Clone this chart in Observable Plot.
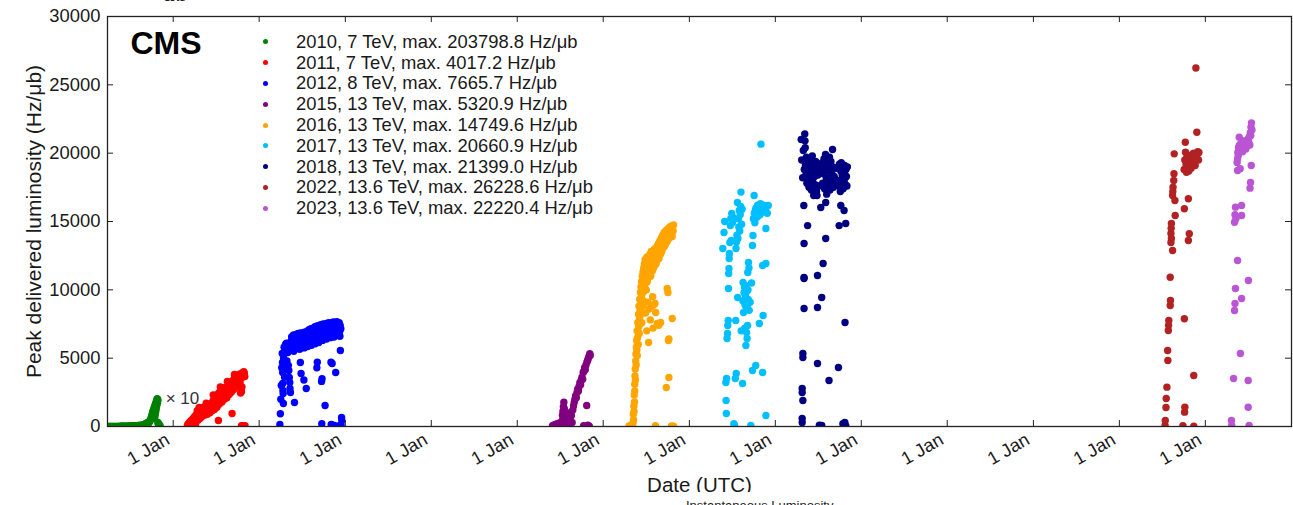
<!DOCTYPE html>
<html><head><meta charset="utf-8">
<script src="https://cdn.jsdelivr.net/npm/d3@7"></script>
<script src="https://cdn.jsdelivr.net/npm/@observablehq/plot@0.6"></script>
<style>
html,body{margin:0;padding:0;background:#fff;}
#wrap{position:relative;width:1293px;height:505px;overflow:hidden;font-family:"Liberation Sans",Arial,Helvetica,sans-serif;color:#1a1a1a;}
#wrap svg{position:absolute;left:0;top:0;}
.lg-dot{position:absolute;width:5px;height:5px;border-radius:50%;}
.lg-txt{position:absolute;font-size:18.4px;line-height:20px;white-space:nowrap;color:#1a1a1a;}
#cut{position:absolute;left:0;top:492px;width:1293px;height:13px;background:#fff;overflow:hidden;}
#cut span{position:absolute;left:686px;top:7px;font-size:13px;line-height:13px;color:#222;white-space:nowrap;}
#topcut{position:absolute;left:163px;top:-17px;font-family:"DejaVu Serif",serif;font-style:italic;font-size:22px;line-height:22px;color:#222;}
</style></head>
<body><div id="wrap"></div>
<script>
// ---------- data ----------
const seriesLabels = [
  "2010, 7 TeV, max. 203798.8 Hz/μb",
  "2011, 7 TeV, max. 4017.2 Hz/μb",
  "2012, 8 TeV, max. 7665.7 Hz/μb",
  "2015, 13 TeV, max. 5320.9 Hz/μb",
  "2016, 13 TeV, max. 14749.6 Hz/μb",
  "2017, 13 TeV, max. 20660.9 Hz/μb",
  "2018, 13 TeV, max. 21399.0 Hz/μb",
  "2022, 13.6 TeV, max. 26228.6 Hz/μb",
  "2023, 13.6 TeV, max. 22220.4 Hz/μb"
];
const seriesYears = [2010, 2011, 2012, 2015, 2016, 2017, 2018, 2022, 2023];
const seriesColors = ["#008000", "#ff0000", "#0000ff", "#800080", "#ffa500", "#00bfff", "#000080", "#b22222", "#ba55d3"];

// [day of year, peak luminosity (2010 shown x10)]
const lumi2010 = [[89,2],[92,3],[96,4],[100,4],[104,5],[108,6],[112,6],[116,7],[120,8],[124,9],[128,10],[132,11],[136,12],[140,14],[144,15],[148,17],[152,18],[156,20],[160,22],[164,24],[168,26],[172,28],[176,30],[180,33],[184,36],[188,40],[192,44],[196,48],[200,52],[204,56],[208,60],[212,66],[216,72],[220,78],[224,85],[228,92],[232,100],[236,110],[240,125],[244,150],[247,190],[250,240],[253,210],[256,280],[259,320],[262,260],[265,380],[268,450],[270,560],[272,680],[274,800],[276,920],[278,1050],[280,1150],[282,1250],[284,1350],[286,1450],[288,1550],[290,1650],[292,1750],[294,1850],[296,1950],[297,2038],[299,1980],[300,1900],[298,1700],[295,1500],[293,1300],[291,1100],[289,900],[287,700],[285,600],[300,300],[302,200],[304,150],[307,100],[309,60]];
const lumi2011 = [[60,50],[63,180],[66,90],[69,300],[72,160],[75,420],[78,250],[81,520],[84,330],[87,650],[90,420],[93,780],[96,520],[99,900],[102,1150],[104,620],[107,1000],[110,760],[113,1250],[116,880],[119,1300],[122,1050],[125,1400],[128,950],[131,1280],[134,1150],[137,1450],[140,1050],[143,1320],[146,1200],[149,1550],[152,1100],[155,1400],[158,1650],[161,1250],[164,1750],[167,1400],[170,1900],[173,1550],[176,2050],[179,1700],[182,2200],[185,1850],[188,2350],[191,1950],[192,440],[194,2450],[197,2100],[200,2600],[203,2250],[206,2500],[209,2150],[212,2700],[215,2400],[218,2850],[221,2550],[224,2300],[227,2750],[230,2450],[233,2950],[236,2650],[239,3100],[242,2800],[245,3250],[248,2950],[250,950],[253,3350],[256,3050],[259,3500],[262,3200],[265,3650],[268,3400],[271,3550],[274,3300],[277,3750],[280,3500],[283,3850],[286,2450],[288,2750],[290,2550],[292,2900],[294,3600],[296,3950],[298,3800],[300,4017],[302,3900],[304,3650],[290,60],[295,40],[300,30],[305,50],[95,150],[105,450],[115,600],[124,750],[135,850],[145,900],[156,1000],[165,1150],[175,1250],[186,1400],[196,1650],[207,1800],[217,2000],[228,2100],[238,2350],[247,2500],[257,2700],[266,2900],[275,3000],[284,3200],[110,1400],[140,1700],[170,2300],[200,2900],[230,3300],[260,3800]];
const lumi2012 = [[88,150],[90,930],[92,2000],[94,3000],[96,4300],[98,5340],[99,4680],[100,3950],[100,3150],[101,2630],[102,2410],[103,1680],[104,5000],[106,5800],[108,3600],[110,4240],[112,6000],[114,5500],[116,6100],[118,4800],[120,5780],[122,5410],[124,4460],[126,4100],[128,3590],[130,3220],[131,2780],[133,2490],[134,6200],[136,5750],[138,6550],[140,6050],[142,6400],[144,5850],[146,6700],[148,6150],[150,1760],[151,6450],[153,5900],[155,6600],[157,6100],[159,6750],[161,5950],[163,6500],[165,6200],[167,6800],[169,6000],[171,6600],[173,6300],[175,4680],[176,6850],[178,3880],[179,6150],[181,6700],[183,6350],[185,5900],[187,6650],[189,6250],[190,3400],[192,6900],[194,6100],[196,6600],[198,5850],[200,2780],[201,6750],[203,6400],[205,7000],[207,6200],[209,6800],[211,6450],[213,7100],[215,6300],[217,6900],[219,6550],[221,7150],[223,6350],[225,6950],[227,6600],[229,7200],[231,6450],[233,7000],[235,6700],[237,7300],[239,6500],[241,7050],[243,6800],[245,4300],[246,7350],[247,4700],[248,6600],[250,7100],[252,6850],[254,7400],[256,6650],[258,7150],[260,6900],[262,7450],[264,6700],[265,3300],[266,200],[267,3500],[268,7200],[270,6950],[272,7500],[274,6750],[276,7250],[278,7000],[280,1540],[281,7500],[283,6800],[285,7300],[287,7050],[289,7550],[291,6850],[293,7350],[295,7100],[297,7600],[299,6900],[301,7400],[303,7150],[305,4700],[306,150],[307,7550],[309,6950],[310,4610],[311,7450],[313,7200],[315,7650],[316,100],[317,7000],[319,7500],[320,50],[321,7250],[323,7600],[325,3950],[326,7100],[328,7550],[330,7666],[332,7300],[334,7050],[336,7500],[338,7200],[340,7600],[342,6950],[344,7400],[345,5560],[347,7150],[350,660],[351,440],[348,100],[340,50],[140,5600],[147,5500],[156,5700],[164,5800],[172,5650],[182,5900],[191,5750],[199,6000],[206,5850],[214,6100],[222,5950],[230,6200],[238,6050],[246,6300],[253,6150],[261,6400],[269,6300],[277,6500],[286,6400],[294,6600],[302,6500],[311,6700],[318,6550],[327,6800],[335,6700],[343,6600]];
const lumi2015 = [[150,50],[154,100],[158,30],[162,150],[166,80],[170,200],[174,120],[178,250],[182,180],[186,300],[190,400],[192,800],[194,1100],[196,1450],[198,1780],[200,1300],[203,900],[206,600],[209,250],[212,150],[215,400],[218,700],[221,950],[224,500],[227,1020],[230,800],[233,300],[236,1200],[239,1500],[242,1760],[245,2000],[248,2250],[251,2100],[254,2500],[257,2750],[260,2600],[263,2950],[266,3200],[269,3050],[272,3400],[275,3600],[278,3450],[280,3950],[282,50],[283,4050],[286,4300],[289,4150],[292,4500],[295,1540],[296,4700],[299,4850],[302,5000],[305,5150],[308,5321],[310,5200],[300,100],[306,30]];
const lumi2016 = [[110,40],[115,60],[120,100],[124,80],[127,300],[128,900],[129,500],[130,1500],[131,1100],[132,2300],[133,1800],[134,3100],[134,2600],[135,3700],[136,4200],[137,3400],[138,4800],[139,5300],[140,4500],[141,5800],[142,6300],[143,5600],[144,7000],[146,6500],[147,7600],[148,6900],[150,8200],[151,7300],[152,8800],[154,7800],[155,9300],[156,8400],[158,9800],[159,8900],[160,10200],[162,9400],[163,10600],[165,9700],[166,11000],[168,10100],[169,11300],[171,10400],[172,11600],[174,10800],[175,11900],[177,11100],[178,12200],[180,11400],[180,8300],[182,12000],[184,11200],[185,7000],[186,12400],[188,11700],[190,12100],[190,9100],[192,11500],[193,6150],[195,12300],[195,8600],[197,11800],[199,12600],[200,7800],[201,12000],[204,12800],[205,8800],[206,12200],[208,12500],[210,9500],[211,11900],[212,7200],[213,12700],[215,8900],[216,12300],[218,13000],[220,9000],[221,12500],[222,50],[223,8340],[224,12900],[226,12400],[229,13200],[230,7540],[232,12700],[235,13400],[236,7400],[238,12900],[241,13600],[244,13100],[244,7610],[247,13800],[250,13300],[253,14000],[256,13500],[259,14200],[262,13700],[265,14300],[268,13900],[268,2850],[271,14400],[272,10100],[274,14100],[275,9800],[277,14500],[277,6290],[279,6400],[279,3590],[280,14250],[283,14600],[286,14300],[289,14650],[290,40],[292,14400],[293,7900],[295,14700],[299,14750],[299,30],[145,5200],[149,6000],[153,6800],[157,7500],[161,8200],[164,7600],[167,8800],[170,9200],[173,9900],[176,10300],[179,10900],[183,10000],[187,10600],[191,10900],[196,11200],[202,11000],[209,11400],[214,11600],[219,11800],[225,11900],[231,12200],[237,12300],[243,12600],[249,12800],[255,13100],[261,13200],[267,13400],[273,13600],[281,13800],[287,14000],[293,13900],[297,14300]];
const lumi2017 = [[142,13020],[147,14200],[150,15000],[155,3220],[156,1900],[157,950],[158,3510],[160,6440],[162,6800],[163,7390],[165,7760],[166,10100],[167,11200],[168,11560],[169,12290],[170,12660],[172,13460],[174,14700],[176,15200],[178,13610],[180,15590],[183,14900],[185,15300],[189,200],[192,70],[195,3510],[197,7760],[198,13020],[199,3880],[200,13500],[202,14000],[204,16390],[205,9440],[206,13750],[208,15200],[210,14600],[212,15800],[214,14300],[216,15500],[218,16100],[219,17150],[220,7000],[222,14800],[224,15900],[226,3150],[227,9200],[228,10540],[230,8340],[232,9800],[234,10200],[235,7200],[236,8900],[238,9600],[240,5930],[240,10300],[242,8600],[243,6880],[244,9900],[245,6440],[246,8800],[247,7390],[248,11270],[249,10000],[250,9300],[251,12000],[253,11600],[254,8500],[258,9100],[261,70],[264,10500],[268,4100],[268,13240],[270,13980],[272,15200],[275,16900],[276,15600],[278,14900],[280,15800],[282,4460],[283,16000],[285,15300],[287,15900],[290,16200],[292,15400],[294,15700],[297,7540],[298,16100],[300,15500],[302,16300],[304,20661],[306,15800],[309,16000],[311,11780],[311,3950],[313,8120],[315,16200],[318,15700],[320,16000],[322,15900],[325,14490],[325,11930],[325,800],[328,16100],[331,15600],[335,16170]];
const lumi2018 = [[110,21000],[112,19500],[114,2780],[114,2490],[114,585],[114,290],[116,18200],[117,5340],[117,5050],[117,1900],[119,20200],[121,16170],[122,13390],[122,10900],[122,10830],[122,8630],[123,18800],[125,21399],[126,20900],[127,20400],[128,19100],[130,18400],[132,19700],[134,17800],[136,18900],[137,14700],[139,19300],[141,18100],[143,17500],[145,19600],[147,18700],[149,18000],[151,19200],[153,17300],[155,18500],[157,19800],[159,17900],[161,18800],[163,16900],[165,19000],[167,18300],[169,17700],[171,19400],[173,18600],[175,17200],[177,16900],[179,11050],[179,8710],[179,4610],[181,18400],[183,19100],[185,17600],[187,100],[193,16020],[195,18800],[197,9440],[197,80],[199,19300],[201,17800],[203,11930],[205,18500],[207,19600],[209,17400],[211,18900],[213,19900],[214,16390],[214,13760],[216,18200],[218,17000],[220,19500],[222,18700],[224,17600],[226,19200],[228,3370],[228,18000],[230,19700],[232,17300],[234,18800],[236,19400],[238,17900],[240,18500],[243,20270],[245,19000],[247,17500],[250,18300],[255,18100],[260,18900],[264,17800],[268,4320],[268,18900],[270,17600],[271,14700],[272,19200],[274,18000],[276,17200],[278,16170],[278,18700],[280,19300],[282,17800],[284,18400],[286,19000],[288,17400],[290,18600],[292,15800],[292,17900],[294,19100],[296,7610],[296,18200],[298,17700],[299,14850],[300,18800],[302,18300],[304,17600],[306,19000],[287,200],[290,100],[295,300],[299,50]];
const lumi2022 = [[194,70],[195,440],[198,1390],[199,2050],[202,2880],[205,5560],[206,4830],[208,7020],[209,7400],[210,7760],[216,8850],[217,9220],[216,10920],[219,14120],[220,14500],[221,14850],[219,13460],[221,13760],[226,12880],[226,16900],[227,17200],[228,17510],[231,18000],[232,18490],[233,19950],[236,16540],[237,15440],[270,50],[275,18800],[276,15930],[276,7880],[277,1050],[278,1410],[278,19500],[280,20800],[281,20070],[283,19200],[285,18600],[287,19700],[289,19000],[291,19400],[293,16660],[293,13610],[295,18700],[297,14100],[297,19800],[299,19300],[301,19000],[303,19600],[305,18900],[307,19500],[309,19900],[311,19200],[313,19700],[315,20000],[316,3730],[316,30],[318,19400],[320,19800],[322,19100],[325,26229],[326,19600],[329,21530],[330,19900],[333,20100],[336,19500],[338,20050]];
const lumi2023 = [[111,440],[112,70],[120,3510],[124,8490],[126,9000],[128,10100],[124,14950],[126,15500],[128,16050],[130,15200],[135,19320],[137,19600],[138,20050],[140,19830],[137,18730],[137,12150],[141,20400],[144,20560],[144,21170],[146,20200],[148,18860],[149,5340],[150,20700],[152,20300],[154,15440],[154,16170],[154,9370],[156,20600],[158,20100],[160,20800],[163,20400],[165,20900],[172,20300],[175,20700],[178,20500],[180,21000],[182,3370],[182,1410],[183,10680],[184,20800],[186,70],[187,21200],[189,20600],[190,17440],[191,21500],[192,17850],[193,21300],[194,21900],[195,19100],[196,22220],[198,21700]];

const xTickYears = [2011, 2012, 2013, 2014, 2015, 2016, 2017, 2018, 2019, 2020, 2021, 2022, 2023];
const xTickLabel = "1 Jan";
const yTicks = [0, 5000, 10000, 15000, 20000, 25000, 30000];
const xTitle = "Date (UTC)";
const yTitle = "Peak delivered luminosity (Hz/μb)";
const expLabel = "CMS";
const scaleNote = "× 10";

// ---------- build ----------
const seriesPoints = [lumi2010, lumi2011, lumi2012, lumi2015, lumi2016, lumi2017, lumi2018, lumi2022, lumi2023];
const DAY = 864e5;
const rows = seriesPoints.flatMap((pts, i) => pts.map(([doy, v]) => ({
  date: new Date(Date.UTC(seriesYears[i], 0, 1) + doy * DAY), value: v, series: seriesLabels[i]
})));
const max2010 = rows.filter(d => d.series === seriesLabels[0]).reduce((a, b) => b.value > a.value ? b : a);
const xTicks = xTickYears.map(y => new Date(Date.UTC(y, 0, 1)));

const W = 1293, H = 505, mT = 16, mB = 79, mL = 107, mR = 2;
const plotW = W - mL - mR, plotH = H - mT - mB;
const FONT = '"Liberation Sans", Arial, Helvetica, sans-serif';

const chart = Plot.plot({
  width: W, height: H, marginTop: mT, marginBottom: mB, marginLeft: mL, marginRight: mR,
  style: {fontFamily: FONT, fontSize: "18px", color: "#1a1a1a", background: "transparent"},
  x: {type: "utc", domain: [new Date(Date.UTC(2010, 2, 28)), new Date(Date.UTC(2024, 0, 2))]},
  y: {domain: [0, 30000]},
  color: {domain: seriesLabels, range: seriesColors},
  marks: [
    Plot.dot(rows, {x: "date", y: "value", fill: "series", r: 3.7, clip: true}),
    Plot.ruleX(xTicks, {x: d => d, insetTop: plotH - 6, stroke: "#222"}),
    Plot.ruleX(xTicks, {x: d => d, insetBottom: plotH - 6, stroke: "#222"}),
    Plot.ruleY(yTicks, {y: d => d, insetRight: plotW - 6, stroke: "#222"}),
    Plot.ruleY(yTicks, {y: d => d, insetLeft: plotW - 6, stroke: "#222"}),
    Plot.frame({stroke: "#222", strokeWidth: 1.3}),
    Plot.axisY({ticks: yTicks, tickSize: 0, tickPadding: 7, tickFormat: d3.format("d"), fontSize: 18.4, label: null}),
    Plot.axisX({ticks: xTicks, tickSize: 0, tickRotate: -30, tickPadding: 11.5, dx: -5.4,
      textAnchor: "end", lineAnchor: "middle", tickFormat: () => xTickLabel, fontSize: 18.4, label: null}),
    Plot.text([xTitle], {text: d => d, frameAnchor: "bottom", dy: 65.5, lineAnchor: "bottom", fontSize: 20.5}),
    Plot.text([yTitle], {text: d => d, frameAnchor: "left", rotate: -90, dx: -67, textAnchor: "middle",
      lineAnchor: "bottom", fontSize: 21}),
    Plot.text([expLabel], {text: d => d, frameAnchor: "top-left", dx: 23, dy: 37.3, lineAnchor: "bottom",
      textAnchor: "start", fontSize: 32, fontWeight: "bold", fill: "#000"}),
    Plot.text([max2010], {x: "date", y: "value", text: () => scaleNote, dx: 8.5, textAnchor: "start",
      lineAnchor: "middle", fontSize: 17, fill: "#333"})
  ]
});

const wrap = document.getElementById("wrap");
wrap.appendChild(chart);

// legend overlay
seriesLabels.forEach((lab, i) => {
  const cy = 41.8 + i * 20.8;
  const dot = document.createElement("div");
  dot.className = "lg-dot";
  dot.style.left = (265 - 2.5) + "px";
  dot.style.top = (cy - 2.5) + "px";
  dot.style.background = seriesColors[i];
  wrap.appendChild(dot);
  const t = document.createElement("div");
  t.className = "lg-txt";
  t.style.left = "296px";
  t.style.top = (cy - 10) + "px";
  t.textContent = lab;
  wrap.appendChild(t);
});

// cropped fragments of the surrounding page
const topFrag = document.createElement("div");
topFrag.id = "topcut"; topFrag.textContent = "ab";
wrap.appendChild(topFrag);
const cutFrag = document.createElement("div");
cutFrag.id = "cut";
const cutText = document.createElement("span");
cutText.textContent = "Instantaneous Luminosity";
cutFrag.appendChild(cutText);
wrap.appendChild(cutFrag);
</script>
</body></html>
